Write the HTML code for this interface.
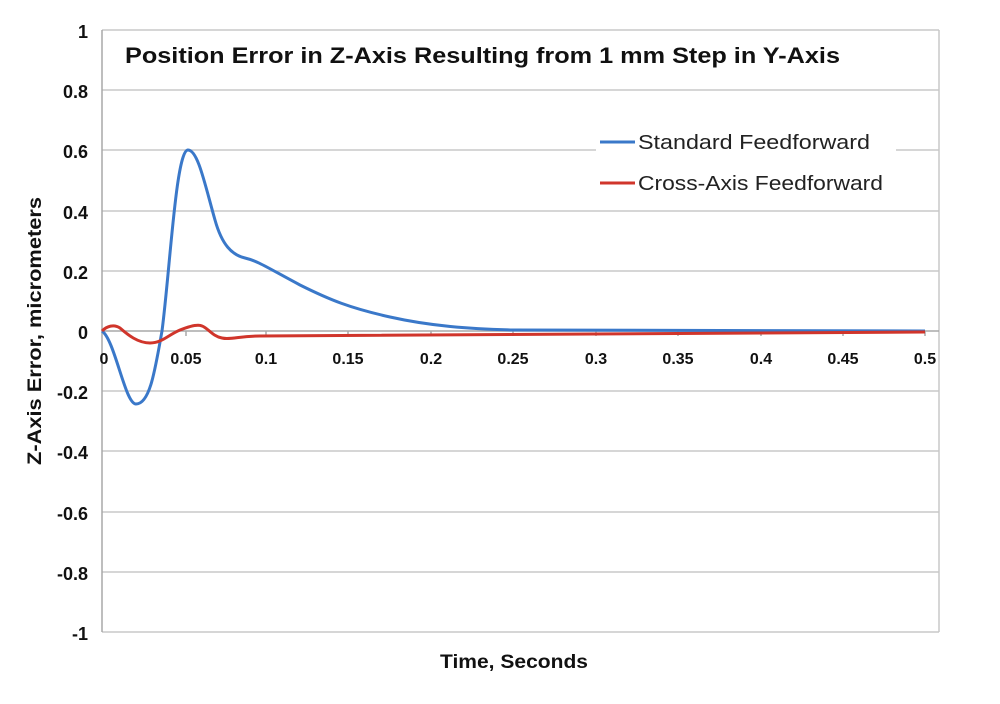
<!DOCTYPE html>
<html><head><meta charset="utf-8"><style>
html,body{margin:0;padding:0;background:#fff;}
svg{display:block;font-family:"Liberation Sans",sans-serif;}
</style></head><body>
<svg width="1000" height="704" viewBox="0 0 1000 704">
<g stroke="#c8c8c8" stroke-width="1.5">
<line x1="102" y1="30" x2="939" y2="30"/>
<line x1="102" y1="90" x2="939" y2="90"/>
<line x1="102" y1="150" x2="939" y2="150"/>
<line x1="102" y1="211" x2="939" y2="211"/>
<line x1="102" y1="271" x2="939" y2="271"/>
<line x1="102" y1="391" x2="939" y2="391"/>
<line x1="102" y1="451" x2="939" y2="451"/>
<line x1="102" y1="512" x2="939" y2="512"/>
<line x1="102" y1="572" x2="939" y2="572"/>
<line x1="102" y1="632" x2="939" y2="632"/>
<line x1="939" y1="30" x2="939" y2="632"/>
</g>
<rect x="596" y="128" width="300" height="50" fill="#fff"/>
<g stroke="#a8a8a8" stroke-width="1.5">
<line x1="102" y1="30" x2="102" y2="632"/>
<line x1="102" y1="331" x2="939" y2="331"/>
<line x1="186" y1="331" x2="186" y2="336"/><line x1="266" y1="331" x2="266" y2="336"/>
<line x1="348" y1="331" x2="348" y2="336"/><line x1="431" y1="331" x2="431" y2="336"/>
<line x1="513" y1="331" x2="513" y2="336"/><line x1="596" y1="331" x2="596" y2="336"/>
<line x1="678" y1="331" x2="678" y2="336"/><line x1="761" y1="331" x2="761" y2="336"/>
<line x1="843" y1="331" x2="843" y2="336"/><line x1="925" y1="331" x2="925" y2="336"/>
</g>
<g font-weight="bold" font-size="18" fill="#111" text-anchor="end">
<text x="88" y="38">1</text><text x="88" y="98">0.8</text><text x="88" y="158">0.6</text>
<text x="88" y="219">0.4</text><text x="88" y="279">0.2</text><text x="88" y="339">0</text>
<text x="88" y="399">-0.2</text><text x="88" y="459">-0.4</text><text x="88" y="520">-0.6</text>
<text x="88" y="580">-0.8</text><text x="88" y="640">-1</text>
</g>
<g font-weight="bold" font-size="16" fill="#111" text-anchor="middle">
<text x="104" y="364">0</text><text x="186" y="364">0.05</text><text x="266" y="364">0.1</text>
<text x="348" y="364">0.15</text><text x="431" y="364">0.2</text><text x="513" y="364">0.25</text>
<text x="596" y="364">0.3</text><text x="678" y="364">0.35</text><text x="761" y="364">0.4</text>
<text x="843" y="364">0.45</text><text x="925" y="364">0.5</text>
</g>
<text x="125" y="63" font-weight="bold" font-size="22" fill="#111" textLength="715" lengthAdjust="spacingAndGlyphs">Position Error in Z-Axis Resulting from 1 mm Step in Y-Axis</text>
<text x="440" y="668" font-weight="bold" font-size="19" fill="#111" textLength="148" lengthAdjust="spacingAndGlyphs">Time, Seconds</text>
<text transform="translate(41,465) rotate(-90)" font-weight="bold" font-size="19" fill="#111" textLength="268" lengthAdjust="spacingAndGlyphs">Z-Axis Error, micrometers</text>
<path d="M102,331 C115,340 125,404 136,404 C150,404 155,370 162,331 C170,270 176,150 188,150 C198,150 205,185 215,220 C222,245 232,255 245,258 C258,261 268,268 300,285 C330,300 350,308 390,317 C430,326 470,329 513,330 L925,331" fill="none" stroke="#3a78c9" stroke-width="3"/>
<path d="M102,331 C107,326 114,324 120,328 C128,335 138,343 150,343 C162,343 168,335 180,330 C190,326 198,324 202,326 C208,328 212,336 222,338 C230,340 240,336 260,336 C320,335 500,333 925,332" fill="none" stroke="#d0352b" stroke-width="3"/>
<line x1="600" y1="142" x2="635" y2="142" stroke="#3a78c9" stroke-width="3"/>
<line x1="600" y1="183" x2="635" y2="183" stroke="#d0352b" stroke-width="3"/>
<g font-size="20" fill="#222">
<text x="638" y="149" textLength="232" lengthAdjust="spacingAndGlyphs">Standard Feedforward</text>
<text x="638" y="190" textLength="245" lengthAdjust="spacingAndGlyphs">Cross-Axis Feedforward</text>
</g>
</svg>
</body></html>
